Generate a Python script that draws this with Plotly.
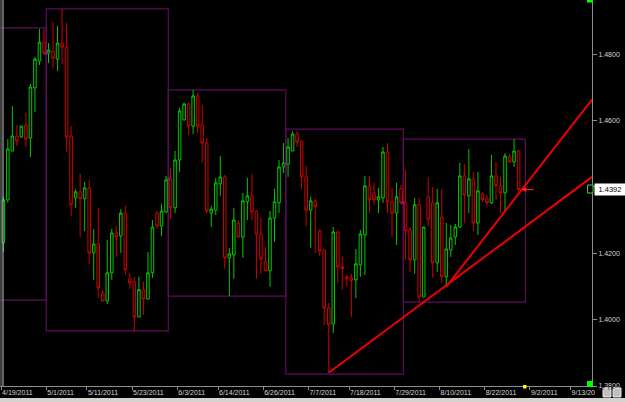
import pandas as pd
import plotly.graph_objects as go

# ---------------- data (EUR/USD daily, Sun-Fri sessions) ----------------
start_date = "2011-04-19"

opens = [1.4231, 1.4361, 1.4508, 1.4553, 1.4550, 1.4586, 1.4547, 1.4698, 1.4779, 1.4836,
         1.4803, 1.4809, 1.4785, 1.4833, 1.4821, 1.4553, 1.4367, 1.4385, 1.4364, 1.4397,
         1.4201, 1.4228, 1.4080, 1.4056, 1.4141, 1.4261, 1.4252, 1.4321, 1.4123, 1.4114,
         1.4008, 1.4090, 1.4062, 1.4141, 1.4321, 1.4282, 1.4324, 1.4424, 1.4337, 1.4481,
         1.4602, 1.4650, 1.4583, 1.4674, 1.4586, 1.4532, 1.4321, 1.4330, 1.4409, 1.4430,
         1.4186, 1.4195, 1.4291, 1.4249, 1.4355, 1.4373, 1.4327, 1.4258, 1.4174, 1.4147,
         1.4306, 1.4352, 1.4460, 1.4469, 1.4508, 1.4559, 1.4538, 1.4430, 1.4330, 1.4358,
         1.4267, 1.4210, 1.4035, 1.3987, 1.4264, 1.4159, 1.4129, 1.4126, 1.4120, 1.4165,
         1.4255, 1.4403, 1.4382, 1.4361, 1.4367, 1.4505, 1.4355, 1.4321, 1.4394, 1.4352,
         1.4270, 1.4180, 1.4346, 1.4068, 1.4370, 1.4352, 1.4171, 1.4309, 1.4129, 1.4210,
         1.4249, 1.4279, 1.4433, 1.4373, 1.4424, 1.4291, 1.4379, 1.4364, 1.4352, 1.4433,
         1.4403, 1.4382, 1.4490, 1.4475, 1.4508]

highs = [1.4370, 1.4544, 1.4644, 1.4586, 1.4583, 1.4623, 1.4710, 1.4791, 1.4876, 1.4876,
         1.4833, 1.4897, 1.4885, 1.4936, 1.4894, 1.4583, 1.4394, 1.4439, 1.4415, 1.4421,
         1.4273, 1.4337, 1.4090, 1.4240, 1.4273, 1.4282, 1.4333, 1.4343, 1.4141, 1.4129,
         1.4129, 1.4114, 1.4204, 1.4300, 1.4327, 1.4349, 1.4433, 1.4457, 1.4508, 1.4638,
         1.4653, 1.4653, 1.4692, 1.4683, 1.4647, 1.4547, 1.4343, 1.4427, 1.4493, 1.4436,
         1.4216, 1.4337, 1.4300, 1.4382, 1.4427, 1.4439, 1.4330, 1.4306, 1.4219, 1.4327,
         1.4394, 1.4481, 1.4532, 1.4547, 1.4568, 1.4568, 1.4538, 1.4463, 1.4370, 1.4364,
         1.4273, 1.4210, 1.4050, 1.4279, 1.4267, 1.4189, 1.4135, 1.4138, 1.4213, 1.4270,
         1.4433, 1.4433, 1.4412, 1.4397, 1.4520, 1.4532, 1.4397, 1.4412, 1.4406, 1.4451,
         1.4279, 1.4367, 1.4367, 1.4279, 1.4427, 1.4400, 1.4394, 1.4394, 1.4291, 1.4285,
         1.4288, 1.4472, 1.4469, 1.4514, 1.4445, 1.4445, 1.4385, 1.4376, 1.4496, 1.4475,
         1.4430, 1.4502, 1.4499, 1.4544, 1.4511]

lows = [1.4204, 1.4352, 1.4508, 1.4523, 1.4547, 1.4520, 1.4490, 1.4626, 1.4767, 1.4797,
        1.4773, 1.4758, 1.4749, 1.4770, 1.4505, 1.4312, 1.4337, 1.4249, 1.4267, 1.4168,
        1.4120, 1.4065, 1.4056, 1.4047, 1.4120, 1.4189, 1.4201, 1.4135, 1.4093, 1.3966,
        1.4008, 1.4014, 1.4062, 1.4126, 1.4273, 1.4252, 1.4321, 1.4303, 1.4321, 1.4445,
        1.4599, 1.4556, 1.4559, 1.4562, 1.4472, 1.4321, 1.4279, 1.4315, 1.4373, 1.4153,
        1.4071, 1.4123, 1.4249, 1.4186, 1.4300, 1.4300, 1.4123, 1.4138, 1.4147, 1.4099,
        1.4234, 1.4321, 1.4442, 1.4430, 1.4508, 1.4520, 1.4394, 1.4282, 1.4216, 1.4201,
        1.4192, 1.3984, 1.3840, 1.3960, 1.4111, 1.4090, 1.4099, 1.4008, 1.4065, 1.4129,
        1.4135, 1.4321, 1.4346, 1.4321, 1.4352, 1.4321, 1.4249, 1.4225, 1.4346, 1.4180,
        1.4144, 1.4138, 1.4053, 1.4068, 1.4282, 1.4126, 1.4144, 1.4111, 1.4099, 1.4189,
        1.4225, 1.4276, 1.4291, 1.4321, 1.4267, 1.4255, 1.4355, 1.4343, 1.4349, 1.4361,
        1.4321, 1.4324, 1.4472, 1.4460, 1.4385]

closes = [1.4361, 1.4514, 1.4553, 1.4538, 1.4583, 1.4544, 1.4701, 1.4785, 1.4836, 1.4803,
          1.4812, 1.4788, 1.4833, 1.4821, 1.4550, 1.4346, 1.4385, 1.4364, 1.4397, 1.4201,
          1.4228, 1.4096, 1.4056, 1.4141, 1.4261, 1.4249, 1.4321, 1.4150, 1.4111, 1.4008,
          1.4090, 1.4062, 1.4141, 1.4279, 1.4282, 1.4327, 1.4421, 1.4337, 1.4481, 1.4629,
          1.4650, 1.4583, 1.4674, 1.4583, 1.4532, 1.4327, 1.4333, 1.4412, 1.4430, 1.4186,
          1.4198, 1.4300, 1.4249, 1.4358, 1.4373, 1.4324, 1.4258, 1.4183, 1.4147, 1.4306,
          1.4355, 1.4460, 1.4472, 1.4520, 1.4559, 1.4535, 1.4430, 1.4330, 1.4358, 1.4340,
          1.4207, 1.4035, 1.3984, 1.4264, 1.4159, 1.4153, 1.4123, 1.4117, 1.4168, 1.4258,
          1.4403, 1.4361, 1.4361, 1.4370, 1.4505, 1.4355, 1.4321, 1.4370, 1.4352, 1.4267,
          1.4180, 1.4346, 1.4068, 1.4279, 1.4303, 1.4171, 1.4352, 1.4129, 1.4213, 1.4246,
          1.4279, 1.4433, 1.4376, 1.4424, 1.4291, 1.4388, 1.4361, 1.4352, 1.4433, 1.4403,
          1.4382, 1.4493, 1.4475, 1.4508, 1.4392]

# monthly high/low boxes
box_months = ["2011-04", "2011-05", "2011-06", "2011-07", "2011-08"]
box_high = [1.4879, 1.4936, 1.4692, 1.4574, 1.4544]
box_low = [1.4059, 1.3966, 1.4071, 1.3836, 1.4053]

# trend lines (anchor session date, anchor price, price at right edge)
trend_anchor_date = ["2011-07-12", "2011-08-11"]
trend_anchor_price = [1.3840, 1.4099]
trend_end_price = [1.4430, 1.4663]

tick_dates = ["2011-04-19", "2011-05-01", "2011-05-11", "2011-05-23", "2011-06-03",
              "2011-06-14", "2011-06-26", "2011-07-07", "2011-07-18", "2011-07-29",
              "2011-08-10", "2011-08-22", "2011-09-02", "2011-09-13"]
tick_text = ["4/19/2011", "5/1/2011", "5/11/2011", "5/23/2011", "6/3/2011", "6/14/2011",
             "6/26/2011", "7/7/2011", "7/18/2011", "7/29/2011", "8/10/2011", "8/22/2011",
             "9/2/2011", "9/13/20"]

y_ticks = [1.38, 1.40, 1.42, 1.44, 1.46, 1.48]
last_price_label = "1.4392"

# ---------------- session calendar (Sunday..Friday bars) ----------------
days = pd.date_range("2011-04-01", "2011-09-30", freq="D")
sessions = [d for d in days if d.dayofweek != 5]
offset = [d.strftime("%Y-%m-%d") for d in sessions].index(start_date)
sess_idx = {d.strftime("%Y-%m-%d"): i - offset for i, d in enumerate(sessions)}
sess_month = {}
for d in sessions:
    sess_month.setdefault(d.strftime("%Y-%m"), []).append(sess_idx[d.strftime("%Y-%m-%d")])

n = len(opens)
xs = list(range(n))

GREEN = "#00c800"
RED = "#d00000"
PURPLE = "#5c0c5c"
TXT = "#d4d4d4"
FONT = "Liberation Sans, Arial, sans-serif"

X_MIN, X_MAX = -0.73, 130.24
Y_MIN, Y_MAX = 1.3800, 1.4963
PLOT_W, PLOT_H = 592, 386

fig = go.Figure()

# monthly boxes
shapes = []
box_x0, box_opens = [], []
for m, hi, lo in zip(box_months, box_high, box_low):
    idx = sess_month[m]
    x0, x1 = min(idx) - 0.5, max(idx) + 0.5
    shapes.append(dict(type="rect", xref="x", yref="y", x0=x0, x1=x1, y0=lo, y1=hi,
                       line=dict(color=PURPLE, width=1.2), layer="below"))
    first = min(idx)
    if 0 <= first < n:
        box_x0.append(x0)
        box_opens.append(opens[first])

fig.add_trace(go.Scatter(x=box_x0, y=box_opens, mode="markers",
                         marker=dict(symbol="square", size=3, color="#7a1a7a"),
                         hoverinfo="skip", showlegend=False))

fig.add_trace(go.Candlestick(
    x=xs, open=opens, high=highs, low=lows, close=closes,
    increasing=dict(line=dict(color=GREEN, width=1), fillcolor="#000000"),
    decreasing=dict(line=dict(color=RED, width=1), fillcolor="#000000"),
    whiskerwidth=0, showlegend=False, hoverinfo="skip"))

# trend lines
for d, p0, p1 in zip(trend_anchor_date, trend_anchor_price, trend_end_price):
    fig.add_trace(go.Scatter(x=[sess_idx[d], X_MAX], y=[p0, p1], mode="lines",
                             line=dict(color="#ee0000", width=2),
                             hoverinfo="skip", showlegend=False))

# decorations in pixel space
def px(x):
    return x / PLOT_W

def py(y):
    return (PLOT_H - y) / PLOT_H

shapes += [
    dict(type="line", xref="paper", yref="paper", x0=px(1), x1=px(1), y0=0, y1=1,
         line=dict(color="#7c7c7c", width=1)),
    dict(type="line", xref="paper", yref="paper", x0=px(3), x1=px(3), y0=0, y1=1,
         line=dict(color="#c8c8c8", width=1)),
    dict(type="rect", xref="paper", yref="paper", x0=px(587), x1=px(593), y0=py(2.5), y1=py(0),
         fillcolor="#00ff00", line=dict(width=0)),
    dict(type="rect", xref="paper", yref="paper", x0=px(587), x1=px(593), y0=py(387), y1=py(381),
         fillcolor="#00ff00", line=dict(width=0)),
    dict(type="rect", xref="paper", yref="paper", x0=px(523), x1=px(526.5), y0=py(388.5), y1=py(385),
         fillcolor="#ffff00", line=dict(width=0)),
    dict(type="rect", xref="paper", yref="paper", x0=px(587.5), x1=px(593), y0=py(193), y1=py(185),
         fillcolor="#000000", line=dict(color="#40d040", width=1)),
    dict(type="rect", xref="paper", yref="paper", x0=px(0), x1=px(625), y0=py(402), y1=py(398),
         fillcolor="#d6d3cc", line=dict(width=0)),
    dict(type="rect", xref="paper", yref="paper", x0=px(603), x1=px(611), y0=py(397), y1=py(388),
         fillcolor="#c0c0c0", line=dict(color="#e8e8e8", width=1)),
    dict(type="rect", xref="paper", yref="paper", x0=px(613), x1=px(621), y0=py(397), y1=py(388),
         fillcolor="#c0c0c0", line=dict(color="#e8e8e8", width=1)),
]

annotations = [
    dict(xref="paper", yref="y", x=1, y=closes[-1], xanchor="left", yanchor="middle",
         xshift=2, text=last_price_label, showarrow=False, bgcolor="#ffffff",
         font=dict(family=FONT, size=7.5, color="#000000"), borderpad=1, width=28),
    dict(xref="x", yref="y", x=n - 1 + 0.6, y=closes[-1], ax=14, ay=0, text="",
         showarrow=True, arrowhead=2, arrowsize=1, arrowwidth=1, arrowcolor="#ff2020"),
    dict(xref="paper", yref="paper", x=px(607), y=py(392.5), text="SY", showarrow=False,
         font=dict(family=FONT, size=6, color="#202020")),
    dict(xref="paper", yref="paper", x=px(617), y=py(392.5), text="TF", showarrow=False,
         font=dict(family=FONT, size=6, color="#202020")),
]

fig.update_layout(
    width=625, height=402,
    margin=dict(l=0, r=625 - PLOT_W, t=0, b=402 - PLOT_H, pad=0),
    paper_bgcolor="#000000", plot_bgcolor="#000000",
    font=dict(family=FONT, size=7, color=TXT),
    shapes=shapes, annotations=annotations,
    boxgap=0.2,
    xaxis=dict(range=[X_MIN, X_MAX], showgrid=False, zeroline=False,
               rangeslider=dict(visible=False),
               showline=True, linecolor="#8c8c8c", linewidth=1,
               ticks="outside", ticklen=3, tickcolor="#8c8c8c",
               tickvals=[sess_idx[d] - 0.5 for d in tick_dates], ticktext=tick_text,
               ticklabelposition="outside right",
               tickfont=dict(family=FONT, size=7, color=TXT)),
    yaxis=dict(range=[Y_MIN, Y_MAX], side="right", showgrid=False, zeroline=False,
               showline=True, linecolor="#8c8c8c", linewidth=1,
               ticks="outside", ticklen=4, tickcolor="#8c8c8c",
               tickvals=y_ticks, tickformat=".4f",
               tickfont=dict(family=FONT, size=7, color=TXT)),
    hovermode=False,
)

fig.write_html("out.html")
